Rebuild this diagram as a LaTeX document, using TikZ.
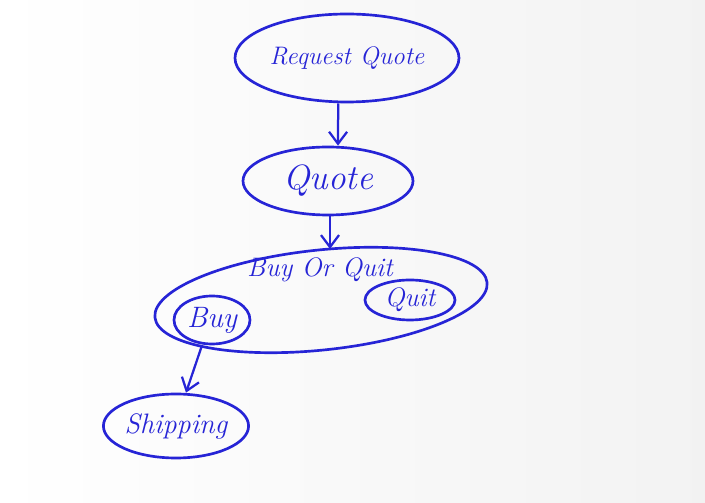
\documentclass[tikz,border=0pt]{standalone}
\usepackage{tikz}
\usepackage{xcolor}
\usetikzlibrary{shapes.geometric, arrows.meta}

\definecolor{ink}{RGB}{38,36,214}

\begin{document}
\begin{tikzpicture}[x=0.025cm, y=-0.025cm,
        state/.style={ellipse, draw=ink, line width=1.9pt, inner sep=0pt, text=ink},
        arr/.style={draw=ink, line width=1.6pt, -{Straight Barb[length=3mm, width=4.5mm]}}]
        \shade[left color=white, right color=black!5] (0, 0) rectangle (705, 503);
        \useasboundingbox (0, 0) rectangle (705, 503);

        \node[state, minimum width=224*0.025cm, minimum height=88*0.025cm, font=\fontsize{18}{21}\selectfont\itshape] (rq) at (347, 58) {Request Quote};
        \node[state, minimum width=170*0.025cm, minimum height=68*0.025cm, font=\fontsize{25}{29}\selectfont\itshape] (quote) at (328, 181) {Quote};
        \node[state, rotate=6, minimum width=334*0.025cm, minimum height=100*0.025cm] (boq) at (321, 300) {};
        \node[text=ink, font=\fontsize{19}{23}\selectfont\itshape] (boqlabel) at (320, 270) {Buy Or Quit};
        \node[state, minimum width=90*0.025cm, minimum height=40*0.025cm, font=\fontsize{19}{23}\selectfont\itshape] (quit) at (410, 300) {Quit};
        \node[state, minimum width=76*0.025cm, minimum height=48*0.025cm, font=\fontsize{21}{25}\selectfont\itshape] (buy) at (212, 320) {Buy};
        \node[state, minimum width=138*0.025cm, minimum height=64*0.025cm, font=\fontsize{20}{24}\selectfont\itshape] (ship) at (176, 426) {Shipping};

        \draw[arr] ([xshift=-0.22cm]rq.south) -- ([xshift=0.25cm]quote.north);
        \draw[arr] ([xshift=0.05cm]quote.south) -- ([xshift=0.05cm]quote.south |- boq.north);
        \draw[arr] ([xshift=-0.25cm]buy.south) -- ([xshift=0.25cm]ship.north);
    \end{tikzpicture}
\end{document}
